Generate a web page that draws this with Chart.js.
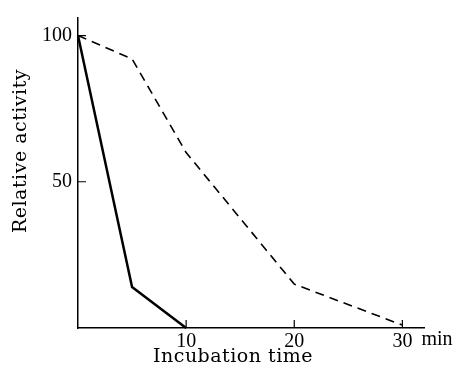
<!DOCTYPE html>
<html>
<head>
<meta charset="utf-8">
<script src="https://cdn.jsdelivr.net/npm/chart.js@4/dist/chart.umd.min.js"></script>
<style>
  html, body { margin: 0; padding: 0; background: #fff; }
  #wrap { width: 457px; height: 372px; }
</style>
</head>
<body>
<div id="wrap"><canvas id="chart"></canvas></div>
<script>
const solidTimes = [0, 5, 10];
const solidActivity = [100, 14, 0];
const dashedTimes = [0, 5, 10, 20, 30];
const dashedActivity = [100, 92, 60, 15, 1];
const xTicks = [10, 20, 30];
const yTicks = [50, 100];
const xTitle = "Incubation time";
const yTitle = "Relative activity";

const toPoints = (xs, ys) => xs.map((x, i) => ({ x: x, y: ys[i] }));

// inward tick marks, the "min" unit and the two axis titles
const axisDecor = {
  id: "axisDecor",
  afterDraw(chart) {
    const ctx = chart.ctx;
    const xs = chart.scales.x;
    const ys = chart.scales.y;
    const area = chart.chartArea;
    ctx.save();
    ctx.strokeStyle = "#000";
    ctx.lineWidth = 1.2;
    ctx.beginPath();
    yTicks.forEach(v => {
      const py = ys.getPixelForValue(v);
      ctx.moveTo(area.left, py);
      ctx.lineTo(area.left + 8, py);
    });
    xTicks.forEach(v => {
      const px = xs.getPixelForValue(v);
      ctx.moveTo(px, area.bottom);
      ctx.lineTo(px, area.bottom - 8);
    });
    ctx.stroke();

    ctx.fillStyle = "#000";
    ctx.font = "20px 'Liberation Serif'";
    ctx.textBaseline = "top";
    ctx.textAlign = "left";
    ctx.fillText("min", xs.getPixelForValue(30) + 19, area.bottom + 2);

    ctx.font = "19px 'DejaVu Serif'";
    ctx.letterSpacing = "0.5px";
    ctx.textAlign = "center";
    ctx.textBaseline = "middle";
    ctx.fillText(xTitle, 233, 357);
    ctx.translate(21, 151);
    ctx.rotate(-Math.PI / 2);
    ctx.fillText(yTitle, 0, 0);
    ctx.restore();
  }
};

new Chart(document.getElementById("chart"), {
  type: "line",
  data: {
    datasets: [
      {
        data: toPoints(solidTimes, solidActivity),
        borderColor: "#000",
        borderWidth: 2.5,
        pointRadius: 0,
        clip: false
      },
      {
        data: toPoints(dashedTimes, dashedActivity),
        borderColor: "#000",
        borderWidth: 1.6,
        borderDash: [9, 6],
        pointRadius: 0,
        clip: false
      }
    ]
  },
  options: {
    responsive: true,
    maintainAspectRatio: false,
    animation: false,
    layout: { padding: { left: 0, top: 15, right: 33, bottom: 0 } },
    plugins: { legend: { display: false }, tooltip: { enabled: false } },
    scales: {
      x: {
        type: "linear",
        min: 0,
        max: 32,
        grid: { display: false, drawTicks: false },
        border: { display: true, color: "#000", width: 1.5 },
        afterBuildTicks: s => { s.ticks = xTicks.map(v => ({ value: v })); },
        afterFit: s => { s.height = 44; },
        ticks: {
          color: "#000",
          padding: 2,
          font: { family: "'Liberation Serif'", size: 20 }
        }
      },
      y: {
        min: 0,
        max: 106,
        grid: { display: false, drawTicks: false },
        border: { display: true, color: "#000", width: 1.5 },
        afterBuildTicks: s => { s.ticks = yTicks.map(v => ({ value: v })); },
        afterFit: s => { s.width = 78; },
        ticks: {
          color: "#000",
          padding: 6,
          font: { family: "'Liberation Serif'", size: 20 }
        }
      }
    }
  },
  plugins: [axisDecor]
});
</script>
</body>
</html>
